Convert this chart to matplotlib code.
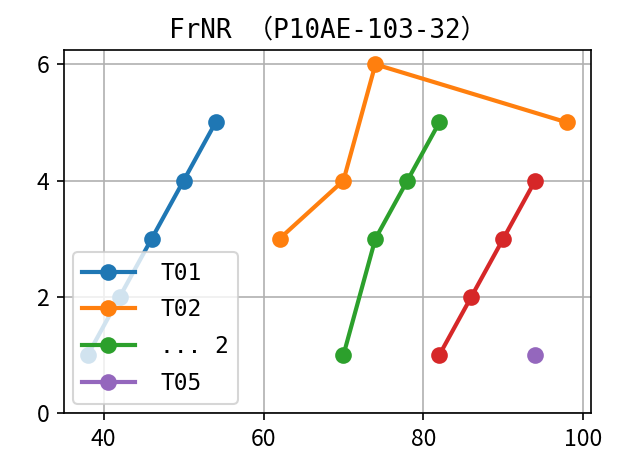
import matplotlib.pyplot as plt

plt.rcParams['font.family'] = ['Noto Sans CJK JP', 'DejaVu Sans']

# データ
t01_x = [38, 42, 46, 50, 54]
t01_y = [1, 2, 3, 4, 5]
t02_x = [62, 70, 74, 98]
t02_y = [3, 4, 6, 5]
s3_x = [70, 74, 78, 82]
s3_y = [1, 3, 4, 5]
s4_x = [82, 86, 90, 94]
s4_y = [1, 2, 3, 4]
t05_x = [94]
t05_y = [1]
x_ticks = [40, 60, 80, 100]
y_ticks = [0, 2, 4, 6]

fig, ax = plt.subplots(figsize=(619 / 150, 457 / 150), dpi=150)
style = dict(marker='o', linewidth=2, markersize=7)
ax.plot(t01_x, t01_y, label='T01', **style)
ax.plot(t02_x, t02_y, label='T02', **style)
ax.plot(s3_x, s3_y, label='... 2', **style)
ax.plot(s4_x, s4_y, label='_T04', **style)
ax.plot(t05_x, t05_y, label='T05', **style)

ax.set_ylim(bottom=0)
ax.set_xticks(x_ticks)
ax.set_yticks(y_ticks)
ax.tick_params(labelsize=11)
ax.set_title('FrNR （P10AE-103-32）', family=['DejaVu Sans Mono', 'Noto Sans CJK JP'], fontsize=12.5)
ax.grid(True)
ax.legend(loc='lower left', prop={'family': ['DejaVu Sans Mono'], 'size': 11},
          handlelength=2.3, handletextpad=1.1, borderaxespad=0.4, labelspacing=0.6)

fig.subplots_adjust(left=0.103, right=0.955, top=0.891, bottom=0.096)
fig.savefig('out.png', dpi=150)
